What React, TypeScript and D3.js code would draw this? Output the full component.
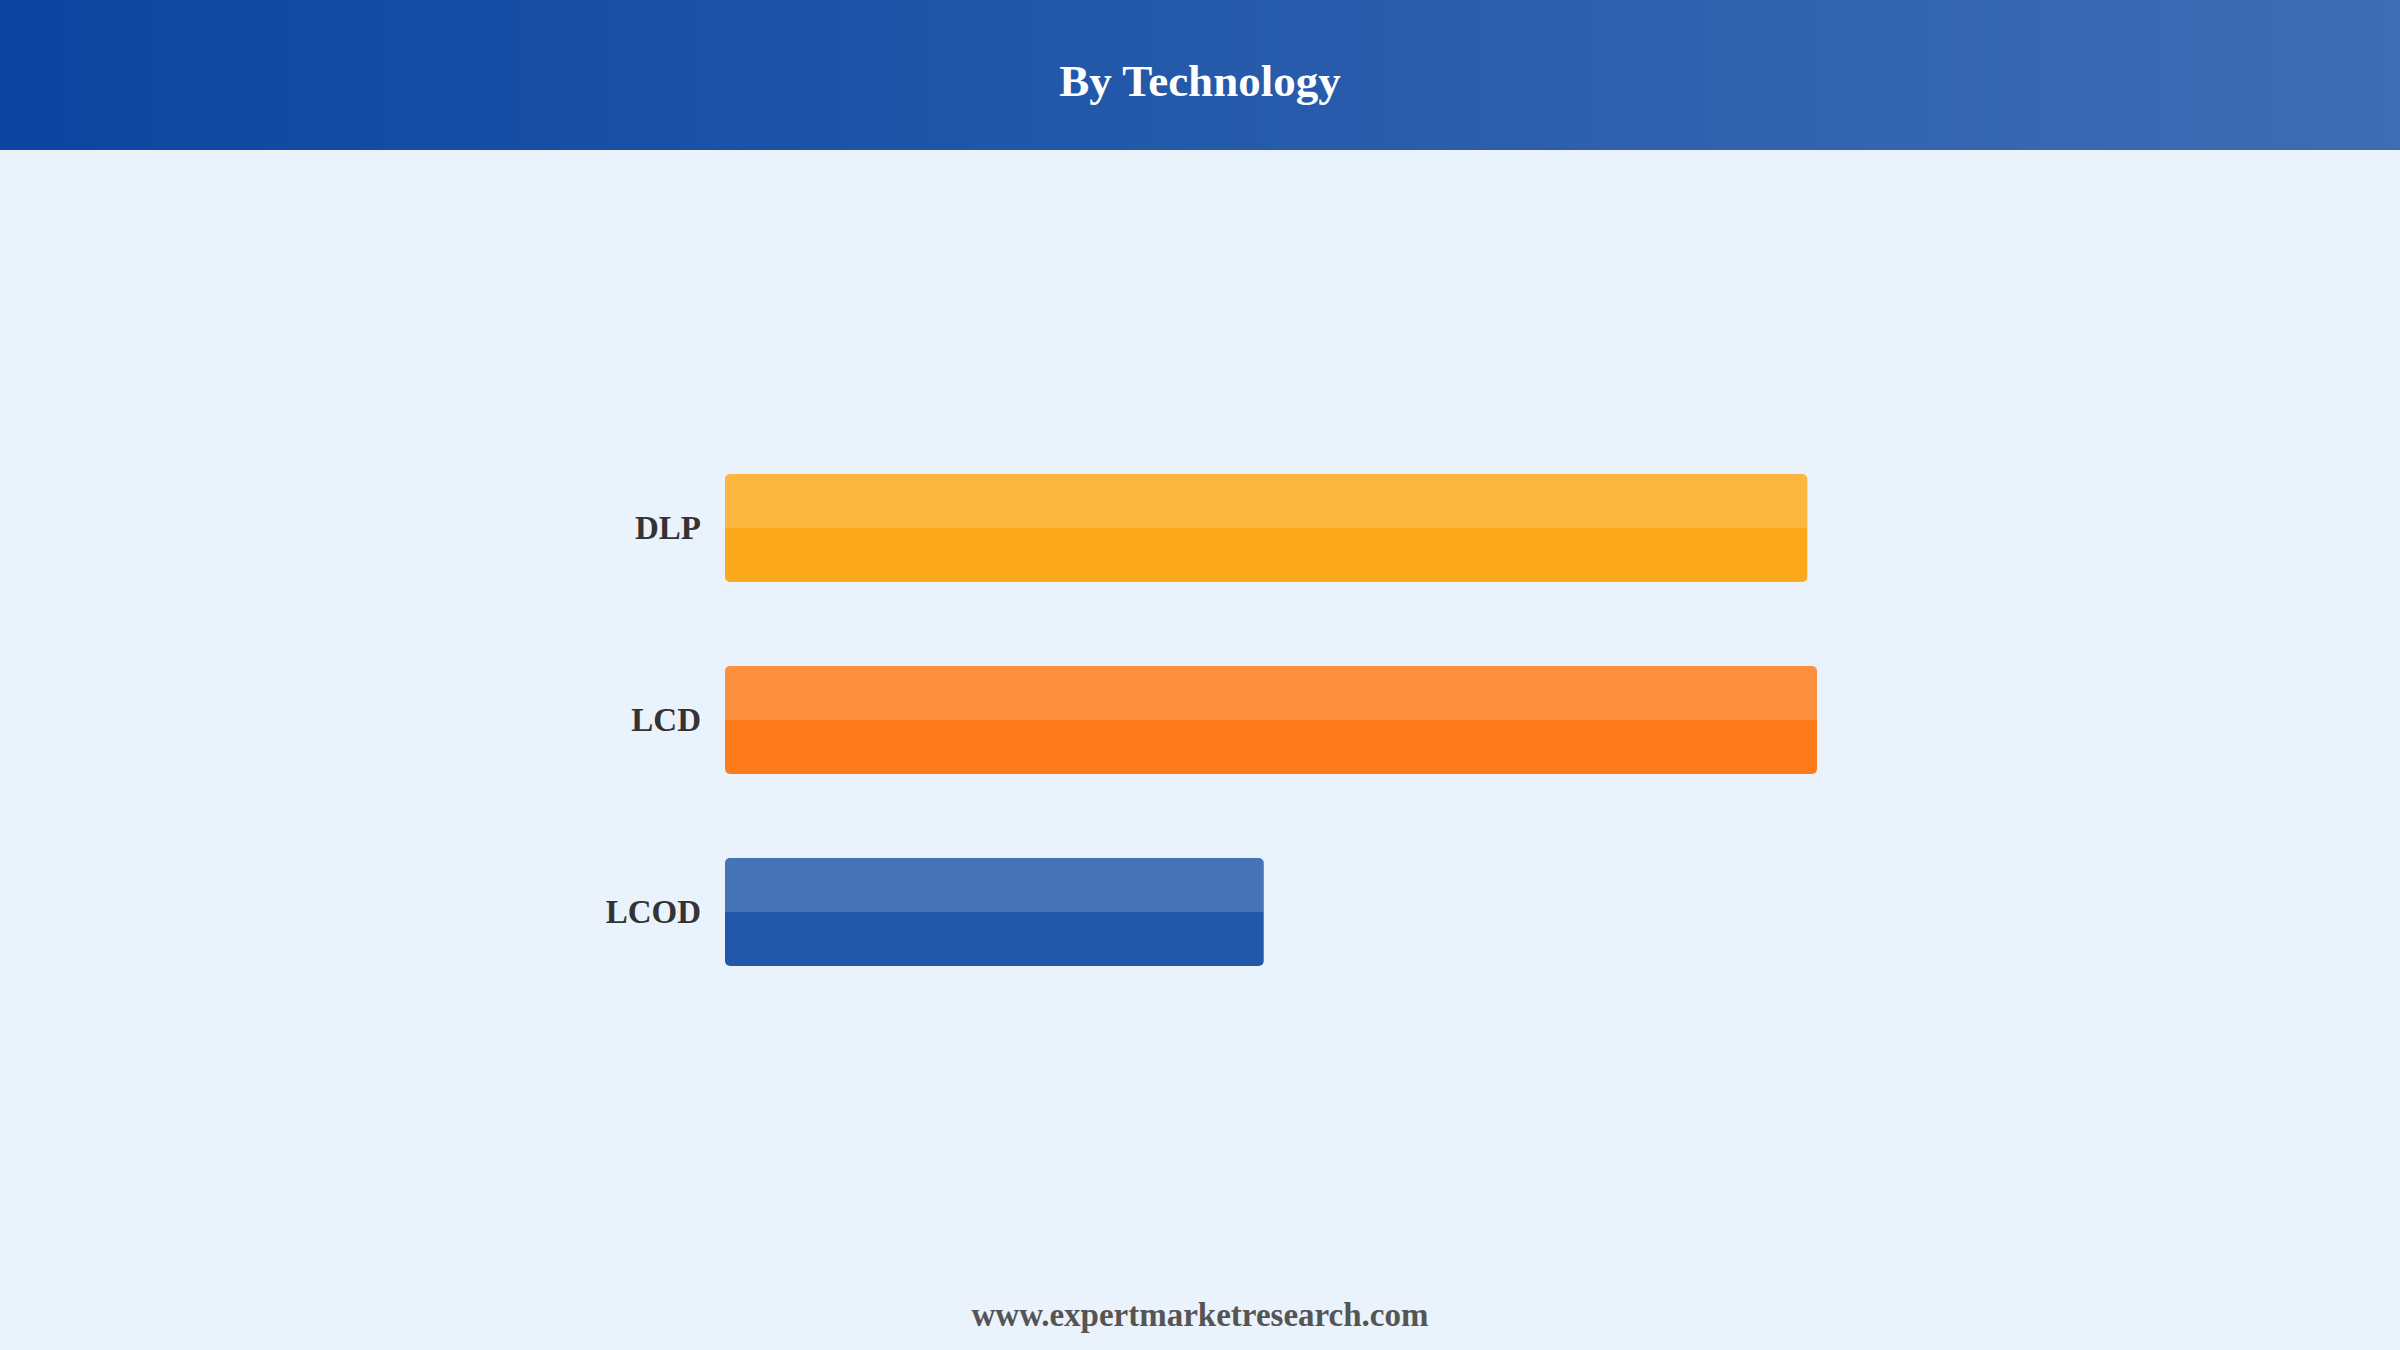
import React, { useEffect, useRef } from "react";
import * as d3 from "d3";

// categories and values (share)
const categories = ["DLP", "LCD", "LCOD"];
const shares = [44.6, 45.0, 22.2];
const baseColors = ["#fba91a", "#fd7b1a", "#2357a9"];

const title = "By Technology";
const footer = "www.expertmarketresearch.com";

const W = 2400;
const H = 1350;

export default function App() {
    const svgRef = useRef(null);

    useEffect(() => {
        document.body.style.margin = "0";
        const svg = d3.select(svgRef.current);
        svg.selectAll("*").remove();

        const font = "'Times New Roman', 'Liberation Serif', serif";
        const margin = { top: 150, left: 725 };

        // background
        svg.append("rect").attr("width", W).attr("height", H).attr("fill", "#eaf2fb");

        // header gradient
        const defs = svg.append("defs");
        const grad = defs.append("linearGradient")
            .attr("id", "hdr")
            .attr("x1", "0%").attr("x2", "100%")
            .attr("y1", "0%").attr("y2", "0%");
        grad.append("stop").attr("offset", "0%").attr("stop-color", "#0c45a0");
        grad.append("stop").attr("offset", "100%").attr("stop-color", "#3e6db4");

        svg.append("rect")
            .attr("width", W)
            .attr("height", margin.top)
            .attr("fill", "url(#hdr)");

        svg.append("text")
            .attr("x", W / 2)
            .attr("y", 81)
            .attr("text-anchor", "middle")
            .attr("dominant-baseline", "central")
            .style("font-family", font)
            .style("font-weight", "bold")
            .style("font-size", "45px")
            .attr("fill", "#ffffff")
            .text(title);

        // scales
        const yScale = d3.scaleBand()
            .domain(categories)
            .range([432, 1008])
            .paddingInner(0.4375)
            .paddingOuter(0.21875);

        const xScale = d3.scaleLinear()
            .domain([0, d3.max(shares)])
            .range([margin.left, 1817]);

        const data = categories.map((c, i) => ({ label: c, value: shares[i], color: baseColors[i] }));

        const bars = svg.append("g")
            .selectAll("g")
            .data(data)
            .join("g");

        bars.append("rect")
            .attr("x", xScale(0))
            .attr("y", d => yScale(d.label))
            .attr("width", d => xScale(d.value) - xScale(0))
            .attr("height", yScale.bandwidth())
            .attr("rx", 5)
            .attr("fill", d => d.color);

        // lighter top half
        bars.append("path")
            .attr("d", d => {
                const x = xScale(0);
                const y = yScale(d.label);
                const w = xScale(d.value) - xScale(0);
                const h = yScale.bandwidth() / 2;
                const r = 5;
                return `M${x},${y + h} V${y + r} Q${x},${y} ${x + r},${y} H${x + w - r} Q${x + w},${y} ${x + w},${y + r} V${y + h} Z`;
            })
            .attr("fill", "#ffffff")
            .attr("fill-opacity", 0.16);

        bars.append("text")
            .attr("x", xScale(0) - 24)
            .attr("y", d => yScale(d.label) + yScale.bandwidth() / 2)
            .attr("text-anchor", "end")
            .attr("dominant-baseline", "central")
            .style("font-family", font)
            .style("font-weight", "bold")
            .style("font-size", "33px")
            .attr("fill", "#333333")
            .text(d => d.label);

        svg.append("text")
            .attr("x", W / 2)
            .attr("y", 1326)
            .attr("text-anchor", "middle")
            .style("font-family", font)
            .style("font-weight", "bold")
            .style("font-size", "33px")
            .attr("fill", "#555555")
            .text(footer);
    }, []);

    return <svg ref={svgRef} width={W} height={H} style={{ display: "block" }} />;
}
